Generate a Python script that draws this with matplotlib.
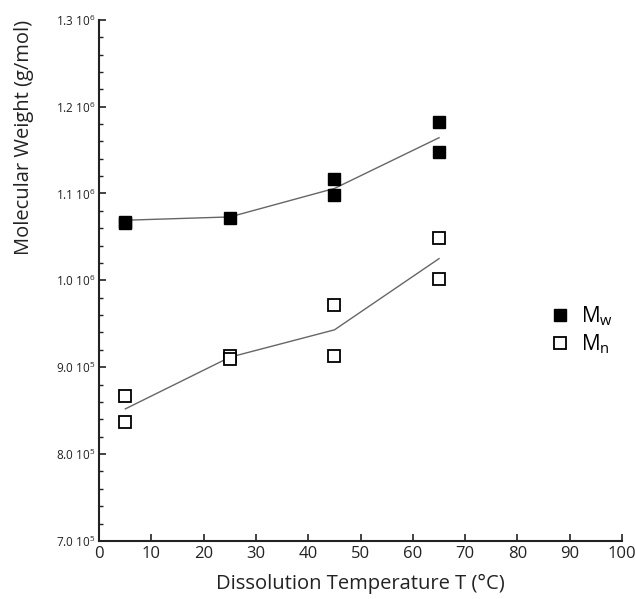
import matplotlib
matplotlib.use('Agg')
import matplotlib.pyplot as plt
import numpy as np
from matplotlib.ticker import MultipleLocator

# data
temps = [5, 25, 45, 65]
mw_x = [5, 5, 25, 45, 45, 65, 65]
mw_y = [1.0669e6, 1.0660e6, 1.0719e6, 1.1162e6, 1.0977e6, 1.1819e6, 1.1473e6]
mw_fit = [1.0692e6, 1.0730e6, 1.1058e6, 1.1642e6]

mn_x = [5, 5, 25, 25, 45, 45, 65, 65]
mn_y = [8.665e5, 8.373e5, 9.127e5, 9.100e5, 9.720e5, 9.127e5, 1.0493e6, 1.0015e6]
mn_fit = [8.52e5, 9.115e5, 9.43e5, 1.025e6]

x_ticks = [0, 10, 20, 30, 40, 50, 60, 70, 80, 90, 100]
y_ticks = [7.0e5, 8.0e5, 9.0e5, 1.0e6, 1.1e6, 1.2e6, 1.3e6]
y_ticklabels = [r'7.0 10$^5$', r'8.0 10$^5$', r'9.0 10$^5$', r'1.0 10$^6$',
                r'1.1 10$^6$', r'1.2 10$^6$', r'1.3 10$^6$']

axes_color = '#222222'
line_color = '#666666'

plt.rcParams.update({'font.family': ['Open Sans', 'DejaVu Sans'],
                     'mathtext.fontset': 'custom',
                     'mathtext.rm': 'Open Sans',
                     'mathtext.it': 'Open Sans',
                     'mathtext.default': 'regular'})

fig = plt.figure(figsize=(6.36, 5.99), dpi=100)
ax = fig.add_axes([0.156, 0.097, 0.822, 0.870])

ax.plot(temps, mw_fit, '-', color=line_color, linewidth=1.0, zorder=2)
ax.plot(temps, mn_fit, '-', color=line_color, linewidth=1.0, zorder=2)

ax.plot(mw_x, mw_y, 's', color='black', markersize=8.5, linestyle='none',
        label=r'M$_w$', zorder=3)
ax.plot(mn_x, mn_y, 's', markerfacecolor='white', markeredgecolor='black',
        markeredgewidth=1.3, markersize=8, linestyle='none',
        label=r'M$_n$', zorder=3)

ax.set_xlim(0, 100)
ax.set_ylim(7.0e5, 1.3e6)

ax.spines['top'].set_visible(False)
ax.spines['right'].set_visible(False)
for s in ('left', 'bottom'):
    ax.spines[s].set_color(axes_color)
    ax.spines[s].set_linewidth(1.5)

ax.set_xticks(x_ticks)
ax.set_yticks(y_ticks)
ax.set_yticklabels(y_ticklabels)
ax.yaxis.set_minor_locator(MultipleLocator(2e4))
ax.tick_params(axis='both', which='major', direction='in', length=5,
               width=1.2, color=axes_color)
ax.tick_params(axis='y', which='minor', direction='in', length=3,
               width=1.0, color=axes_color)
ax.tick_params(axis='x', labelsize=12, colors=axes_color, pad=4)
ax.tick_params(axis='y', labelsize=8.5, colors=axes_color, pad=3)

ax.set_xlabel('Dissolution Temperature T (°C)', fontsize=14.5,
              color=axes_color, labelpad=8)
ax.set_ylabel('Molecular Weight (g/mol)', fontsize=14.5,
              color=axes_color, loc='top')
ax.yaxis.set_label_coords(-0.125, 1.0)

ax.legend(loc='center left', bbox_to_anchor=(0.845, 0.405), frameon=False,
          fontsize=15, handlelength=0.8, handletextpad=0.6,
          labelspacing=0.2, borderpad=0)

fig.savefig('out.png', dpi=100)
